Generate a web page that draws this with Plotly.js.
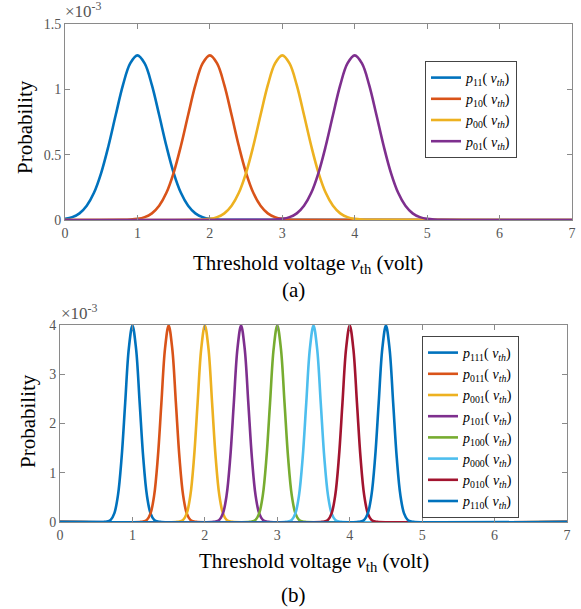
<!DOCTYPE html>
<html>
<head>
<meta charset="utf-8">
<script src="https://cdn.plot.ly/plotly-3.0.1.min.js"></script>
<style>
  html, body { margin: 0; padding: 0; background: #fff; }
  #chart { width: 581px; height: 609px; }
</style>
</head>
<body>
<div id="chart"></div>
<script>
// ---- Panel (a): two-bit states, four threshold-voltage distributions ----
const topMeans = [1, 2, 3, 4];
const topStates = ['11', '10', '00', '01'];
const topColors = ['#0072BD', '#D95319', '#EDB120', '#7E2F8E'];
// distribution shape around each mean (probability in units of 1e-3)
const topOffsets = [-1.2, -1.1, -1.0, -0.9, -0.8, -0.7, -0.6, -0.5, -0.4, -0.3, -0.2, -0.1, 0,
                    0.1, 0.2, 0.3, 0.4, 0.5, 0.6, 0.7, 0.8, 0.9, 1.0, 1.1, 1.2];
const topProfile = [0.001, 0.003, 0.0085, 0.022, 0.051, 0.109, 0.208, 0.361, 0.566, 0.803, 1.032, 1.198, 1.26,
                    1.198, 1.032, 0.803, 0.566, 0.361, 0.208, 0.109, 0.051, 0.022, 0.0085, 0.003, 0.001];

// ---- Panel (b): three-bit states, eight threshold-voltage distributions ----
const botMeans = [1, 1.5, 2, 2.5, 3, 3.5, 4, 4.5];
const botStates = ['111', '011', '001', '101', '100', '000', '010', '110'];
const botColors = ['#0072BD', '#D95319', '#EDB120', '#7E2F8E', '#77AC30', '#4DBEEE', '#A2142F', '#0072BD'];
const botOffsets = [-0.4, -0.35, -0.3, -0.25, -0.2, -0.15, -0.1, -0.05, 0,
                    0.05, 0.1, 0.15, 0.2, 0.25, 0.3, 0.35, 0.4];
const botProfile = [0.001, 0.009, 0.044, 0.175, 0.540, 1.295, 2.420, 3.521, 3.989,
                    3.521, 2.420, 1.295, 0.540, 0.175, 0.044, 0.009, 0.001];

// axis ticks
const xTickVals = [0, 1, 2, 3, 4, 5, 6, 7];
const topYTicks = [0, 0.5, 1, 1.5];
const topYText = ['0', '0.5', '1', '1.5'];
const botYTicks = [0, 1, 2, 3, 4];
const xMin = 0, xMax = 7;

const serif = 'Liberation Serif';
const tickGray = '#555555';
const frameGray = '#8a8a8a';

// one curve: shape shifted to its mean, zero across the rest of the voltage range
function curve(mean, offsets, profile) {
  const xs = [], ys = [];
  offsets.forEach((d, i) => {
    const x = mean + d;
    if (x >= xMin && x <= xMax) { xs.push(x); ys.push(profile[i]); }
  });
  if (xs[0] > xMin) { xs.unshift(xMin); ys.unshift(0); }
  if (xs[xs.length - 1] < xMax) { xs.push(xMax); ys.push(0); }
  return { xs, ys };
}

function label(state) {
  return '<i>p</i><sub>' + state + '</sub>( <i>v<sub>th</sub></i>)';
}

const traces = [];
topMeans.forEach((m, i) => {
  const c = curve(m, topOffsets, topProfile);
  traces.push({
    x: c.xs, y: c.ys, type: 'scatter', mode: 'lines',
    line: { color: topColors[i], width: 2.6, shape: 'spline', smoothing: 1 },
    name: label(topStates[i]), xaxis: 'x', yaxis: 'y', legend: 'legend',
    hoverinfo: 'skip'
  });
});
botMeans.forEach((m, i) => {
  const c = curve(m, botOffsets, botProfile);
  traces.push({
    x: c.xs, y: c.ys, type: 'scatter', mode: 'lines',
    line: { color: botColors[i], width: 2.6, shape: 'spline', smoothing: 1 },
    name: label(botStates[i]), xaxis: 'x2', yaxis: 'y2', legend: 'legend2',
    hoverinfo: 'skip'
  });
});

const W = 581, H = 609;
const px = v => v / W;
const py = v => 1 - v / H;

function xAxis(domain, anchor) {
  return {
    domain: domain, anchor: anchor, range: [xMin, xMax],
    tickvals: xTickVals, ticks: 'inside', ticklen: 5, tickcolor: frameGray,
    showline: true, linecolor: frameGray, linewidth: 1, mirror: 'ticks',
    showgrid: false, zeroline: false,
    tickfont: { family: serif, size: 14, color: tickGray }
  };
}
function yAxis(domain, anchor, range, vals, text) {
  return {
    domain: domain, anchor: anchor, range: range,
    tickvals: vals, ticktext: text, ticks: 'inside', ticklen: 5, tickcolor: frameGray,
    showline: true, linecolor: frameGray, linewidth: 1, mirror: 'ticks',
    showgrid: false, zeroline: false,
    tickfont: { family: serif, size: 14, color: tickGray }
  };
}

const titleFont = { family: serif, size: 21, color: '#000' };
const xTitle = 'Threshold voltage <i>v</i><sub>th</sub> (volt)';

function note(text, x, y, font, extra) {
  return Object.assign({
    text: text, x: px(x), y: py(y), xref: 'paper', yref: 'paper',
    xanchor: 'center', yanchor: 'middle', showarrow: false, font: font
  }, extra || {});
}

const expFont = { family: serif, size: 17, color: tickGray };
const legendFont = { family: serif, size: 14, color: '#000' };

const layout = {
  width: W, height: H,
  margin: { l: 0, r: 0, t: 0, b: 0 },
  paper_bgcolor: '#fff', plot_bgcolor: '#fff',
  xaxis: xAxis([px(65), px(572)], 'y'),
  yaxis: yAxis([py(220), py(24)], 'x', [0, 1.5], topYTicks, topYText),
  xaxis2: xAxis([px(60), px(567)], 'y2'),
  yaxis2: yAxis([py(522), py(325)], 'x2', [0, 4], botYTicks, botYTicks.map(String)),
  legend: {
    x: px(425), y: py(61), xanchor: 'left', yanchor: 'top',
    bgcolor: '#fff', bordercolor: '#444', borderwidth: 1,
    font: legendFont, tracegroupgap: 0, itemwidth: 30
  },
  legend2: {
    x: px(422), y: py(336), xanchor: 'left', yanchor: 'top',
    bgcolor: '#fff', bordercolor: '#444', borderwidth: 1,
    font: legendFont, tracegroupgap: 0, itemwidth: 30
  },
  annotations: [
    note('×10<sup>-3</sup>', 63, 23, expFont, { xanchor: 'left', yanchor: 'bottom' }),
    note('×10<sup>-3</sup>', 59, 325, expFont, { xanchor: 'left', yanchor: 'bottom' }),
    note('Probability', 25, 127, titleFont, { textangle: -90 }),
    note('Probability', 28, 421, titleFont, { textangle: -90 }),
    note(xTitle, 308, 264, titleFont),
    note('(a)', 293, 290, titleFont),
    note(xTitle, 314, 562, titleFont),
    note('(b)', 293, 595, titleFont)
  ]
};

Plotly.newPlot('chart', traces, layout, { staticPlot: true, displayModeBar: false });
</script>
</body>
</html>
